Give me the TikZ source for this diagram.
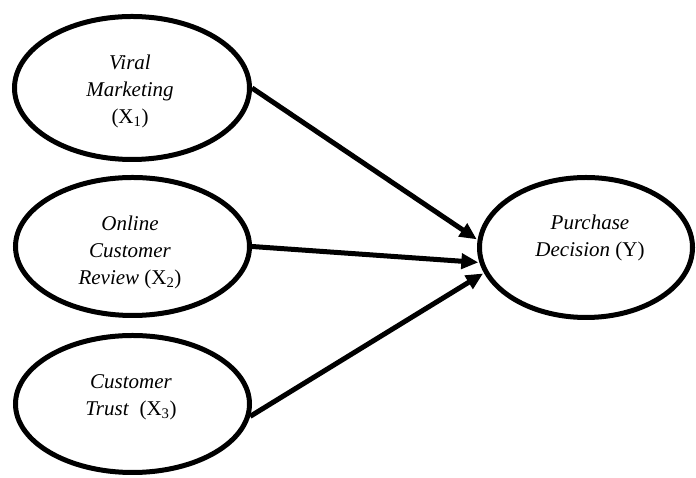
\documentclass[tikz,border=0pt]{standalone}
\usepackage{fontspec}
\setmainfont{Liberation Serif}
\usetikzlibrary{shapes.geometric,arrows.meta}
\tikzset{
  oval/.style={draw=black, line width=5pt, ellipse, inner sep=0pt},
  lbl/.style={align=center, font=\fontsize{21}{27}\selectfont, inner sep=0pt},
  conn/.style={line width=5pt, -{Triangle[length=17pt,width=15pt]}, shorten >=1pt}
}
\begin{document}
\begin{tikzpicture}[x=1pt,y=1pt]
\useasboundingbox (0,0) rectangle (696,478);
% ellipses (y = 478 - image y)
\node[oval, minimum width=235pt, minimum height=143pt] (vm)  at (132,390) {};
\node[oval, minimum width=234pt, minimum height=138pt] (ocr) at (132.5,231.5) {};
\node[oval, minimum width=234pt, minimum height=137pt] (ct)  at (132.5,74) {};
\node[oval, minimum width=213pt, minimum height=140pt] (pd)  at (586,230.5) {};
% labels
\node[lbl] (tvm)  at (130,387) {\textit{Viral}\\\textit{Marketing}\\(X\textsubscript{1})};
\node[lbl] (tocr) at (130,225.5) {\textit{Online}\\\textit{Customer}\\\textit{Review} (X\textsubscript{2})};
\node[lbl] (tct)  at (131,81) {\textit{Customer}\\\textit{Trust}~ (X\textsubscript{3})};
\node[lbl] (tpd)  at (590,240) {\textit{Purchase}\\\textit{Decision} (Y)};
% connectors
\draw[conn] (vm.east) -- (pd.176);
\draw[conn] (ocr.east) -- (pd.188);
\draw[conn] (ct.354) -- (pd.194.5);
\end{tikzpicture}
\end{document}
